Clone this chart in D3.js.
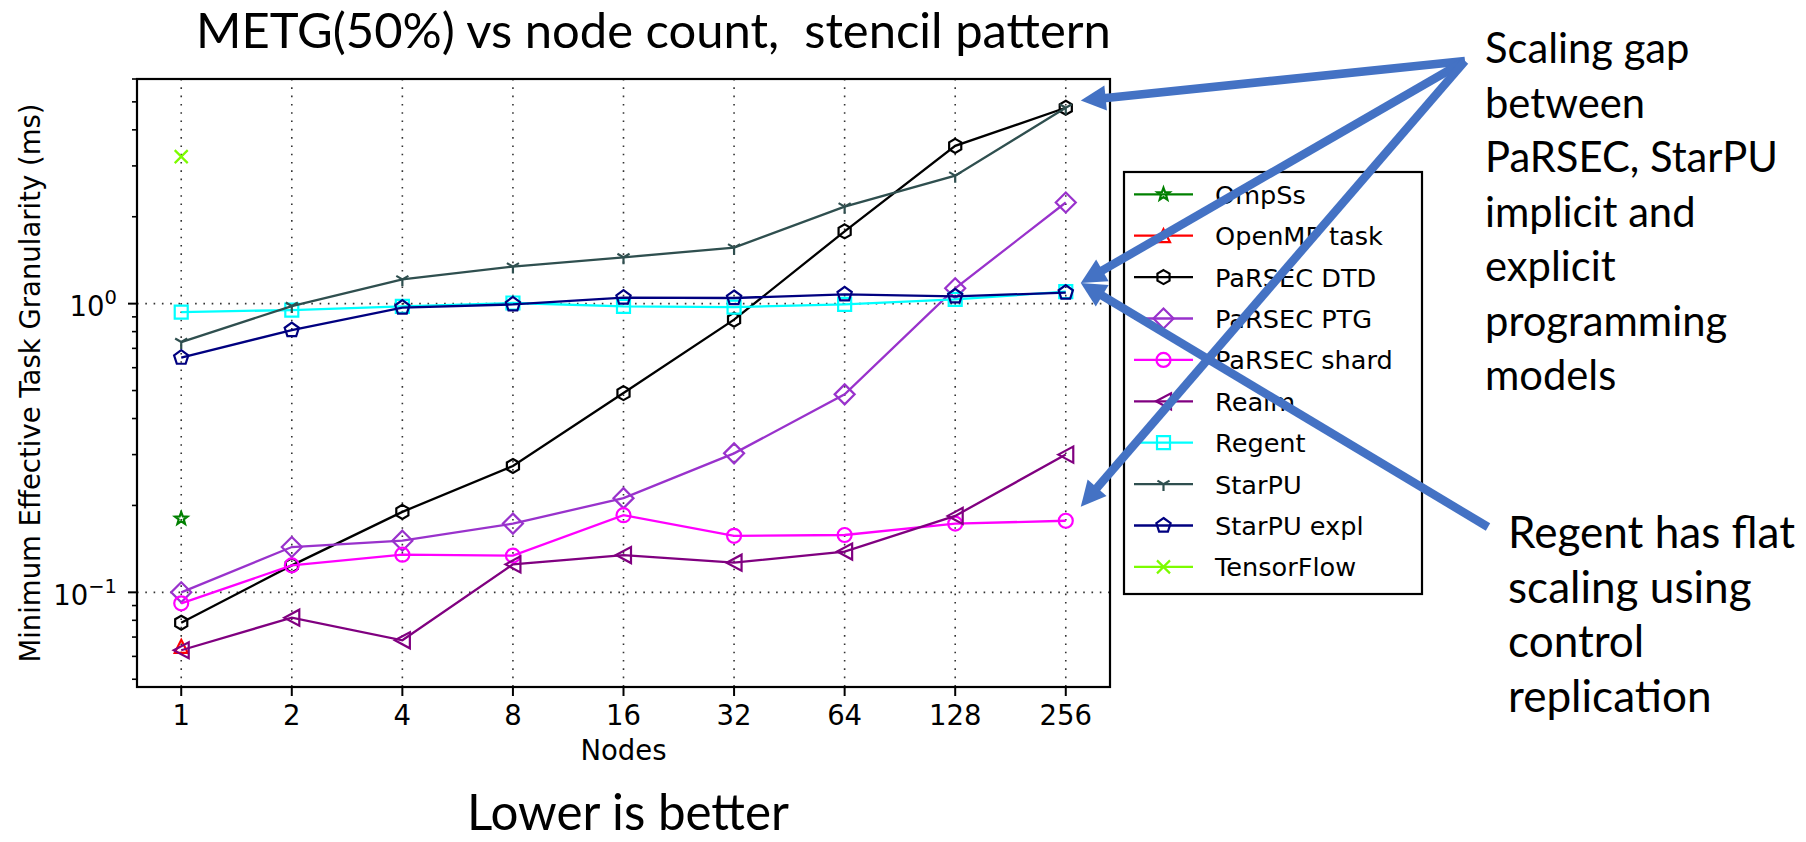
<!DOCTYPE html>
<html>
<head>
<meta charset="utf-8">
<script src="https://cdn.jsdelivr.net/npm/d3@7"></script>
<style>
  body { margin: 0; background: #fff; }
  svg { display: block; }
  text { white-space: pre; }
</style>
</head>
<body>
<script>
// variables:
var w = 1806
var h = 842
var plot = { left: 137, right: 1110, top: 79, bottom: 687 }
var mplFont = 'DejaVu Sans'
var slideFont = 'Lato, Carlito, Calibri, sans-serif'

// data
var nodes = [1, 2, 4, 8, 16, 32, 64, 128, 256]
var ompss = [0.18]
var openmpTask = [0.065]
var parsecDTD = [0.0785, 0.124, 0.19, 0.274, 0.49, 0.88, 1.78, 3.52, 4.77]
var parsecPTG = [0.1, 0.1435, 0.151, 0.173, 0.212, 0.303, 0.485, 1.13, 2.24]
var parsecShard = [0.0916, 0.124, 0.135, 0.134, 0.185, 0.157, 0.158, 0.173, 0.177]
var realm = [0.063, 0.0817, 0.0682, 0.125, 0.1346, 0.1267, 0.1384, 0.184, 0.30]
var regent = [0.935, 0.95, 0.979, 1.005, 0.979, 0.973, 0.994, 1.035, 1.10]
var starpu = [0.736, 0.981, 1.214, 1.344, 1.447, 1.563, 2.168, 2.776, 4.77]
var starpuExpl = [0.65, 0.81, 0.969, 0.994, 1.049, 1.046, 1.077, 1.06, 1.092]
var tensorflow = [3.23]

var seriesNames = ['OmpSs', 'OpenMP task', 'PaRSEC DTD', 'PaRSEC PTG', 'PaRSEC shard',
  'Realm', 'Regent', 'StarPU', 'StarPU expl', 'TensorFlow']
var seriesValues = [ompss, openmpTask, parsecDTD, parsecPTG, parsecShard,
  realm, regent, starpu, starpuExpl, tensorflow]
var seriesColors = ['#008000', '#ff0000', '#000000', '#9932cc', '#ff00ff',
  '#800080', '#00ffff', '#2f4f4f', '#000080', '#7cfc00']
var seriesMarkers = ['star', 'triUp', 'hexagon', 'diamond', 'circle',
  'triLeft', 'square', 'triDown', 'pentagon', 'x']

var yMajor = [0.1, 1]
var yMajorExp = ['\u22121', '0']
var yMinor = [0.05, 0.06, 0.07, 0.08, 0.09, 0.2, 0.3, 0.4, 0.5, 0.6, 0.7, 0.8, 0.9, 2, 3, 4, 5, 6]

var titleText = 'METG(50%) vs node count,  stencil pattern'
var noteGap = ['Scaling gap', 'between', 'PaRSEC, StarPU', 'implicit and', 'explicit', 'programming', 'models']
var noteRegent = ['Regent has flat', 'scaling using', 'control', 'replication']
var footText = 'Lower is better'
// arrow targets in data units (node count, value)
var gapTargets = [[256, 5.05], [256, 1.18], [256, 0.198]]
var regentTarget = [256, 1.18]

var svg = d3.select('body')
  .append('svg')
  .attr('width', w)
  .attr('height', h)

var xScale = d3.scaleLog()
  .base(2)
  .domain([Math.pow(2, -0.4), Math.pow(2, 8.4)])
  .range([plot.left, plot.right])

var yScale = d3.scaleLog()
  .domain([0.047, 6])
  .range([plot.bottom, plot.top])

// helper functions:
function poly (pts) {
  return 'M' + pts.map(function (p) { return p[0].toFixed(2) + ',' + p[1].toFixed(2) }).join('L') + 'Z'
}
function regular (n, r, start) {
  var pts = []
  for (var i = 0; i < n; i++) {
    var a = (start + i * 360 / n) * Math.PI / 180
    pts.push([r * Math.cos(a), r * Math.sin(a)])
  }
  return pts
}
function markerPath (type) {
  switch (type) {
    case 'star':
      var pts = []
      for (var i = 0; i < 10; i++) {
        var r = i % 2 === 0 ? 6.5 : 2.7
        var a = (-90 + i * 36) * Math.PI / 180
        pts.push([r * Math.cos(a), r * Math.sin(a)])
      }
      return poly(pts)
    case 'triUp': return poly([[0, -6.5], [6.5, 6.5], [-6.5, 6.5]])
    case 'triLeft': return poly([[-7.5, 0], [7.5, -8], [7.5, 8]])
    case 'hexagon': return poly(regular(6, 7, -90))
    case 'pentagon': return poly(regular(5, 7.5, -90))
    case 'diamond': return poly([[0, -10], [10, 0], [0, 10], [-10, 0]])
    case 'square': return poly([[-6.5, -6.5], [6.5, -6.5], [6.5, 6.5], [-6.5, 6.5]])
    case 'circle': return 'M7,0A7,7 0 1 1 -7,0A7,7 0 1 1 7,0Z'
    case 'triDown': return 'M0,0L0,7M0,0L-6.06,-3.5M0,0L6.06,-3.5'
    case 'x': return 'M-6.5,-6.5L6.5,6.5M-6.5,6.5L6.5,-6.5'
  }
}

var series = seriesNames.map(function (name, i) {
  return {
    name: name,
    color: seriesColors[i],
    marker: seriesMarkers[i],
    points: seriesValues[i].map(function (v, j) { return { n: nodes[j], v: v } })
  }
})

// grid
svg.append('g')
  .selectAll('line')
  .data(nodes)
  .enter()
  .append('line')
  .attr('x1', function (d) { return xScale(d) })
  .attr('x2', function (d) { return xScale(d) })
  .attr('y1', plot.top)
  .attr('y2', plot.bottom)
  .attr('stroke', '#333')
  .attr('stroke-width', 1.6)
  .attr('stroke-dasharray', '1.6,6.7')

svg.append('g')
  .selectAll('line')
  .data(yMajor)
  .enter()
  .append('line')
  .attr('x1', plot.left)
  .attr('x2', plot.right)
  .attr('y1', function (d) { return yScale(d) })
  .attr('y2', function (d) { return yScale(d) })
  .attr('stroke', '#333')
  .attr('stroke-width', 1.6)
  .attr('stroke-dasharray', '1.6,6.7')

// lines and markers
var line = d3.line()
  .x(function (d) { return xScale(d.n) })
  .y(function (d) { return yScale(d.v) })

var sg = svg.append('g')
  .selectAll('g')
  .data(series)
  .enter()
  .append('g')

sg.append('path')
  .attr('d', function (d) { return line(d.points) })
  .attr('fill', 'none')
  .attr('stroke', function (d) { return d.color })
  .attr('stroke-width', 2.3)

sg.selectAll('.mk')
  .data(function (d) { return d.points.map(function (p) { return { p: p, s: d } }) })
  .enter()
  .append('path')
  .attr('class', 'mk')
  .attr('transform', function (d) { return 'translate(' + xScale(d.p.n) + ',' + yScale(d.p.v) + ')' })
  .attr('d', function (d) { return markerPath(d.s.marker) })
  .attr('fill', 'none')
  .attr('stroke', function (d) { return d.s.color })
  .attr('stroke-width', 2.2)

// axes frame
svg.append('rect')
  .attr('x', plot.left)
  .attr('y', plot.top)
  .attr('width', plot.right - plot.left)
  .attr('height', plot.bottom - plot.top)
  .attr('fill', 'none')
  .attr('stroke', '#000')
  .attr('stroke-width', 2.2)

// x ticks
svg.append('g')
  .selectAll('line')
  .data(nodes)
  .enter()
  .append('line')
  .attr('x1', function (d) { return xScale(d) })
  .attr('x2', function (d) { return xScale(d) })
  .attr('y1', plot.bottom)
  .attr('y2', plot.bottom + 9)
  .attr('stroke', '#000')
  .attr('stroke-width', 2)

svg.append('g')
  .selectAll('text')
  .data(nodes)
  .enter()
  .append('text')
  .text(function (d) { return d })
  .attr('x', function (d) { return xScale(d) })
  .attr('y', 725)
  .attr('text-anchor', 'middle')
  .attr('font-family', mplFont)
  .attr('font-size', '27.5px')

// y ticks
svg.append('g')
  .selectAll('line')
  .data(yMinor)
  .enter()
  .append('line')
  .attr('x1', plot.left - 5)
  .attr('x2', plot.left)
  .attr('y1', function (d) { return yScale(d) })
  .attr('y2', function (d) { return yScale(d) })
  .attr('stroke', '#000')
  .attr('stroke-width', 1.6)

svg.append('g')
  .selectAll('line')
  .data(yMajor)
  .enter()
  .append('line')
  .attr('x1', plot.left - 9)
  .attr('x2', plot.left)
  .attr('y1', function (d) { return yScale(d) })
  .attr('y2', function (d) { return yScale(d) })
  .attr('stroke', '#000')
  .attr('stroke-width', 2)

var yl = svg.append('g')
  .selectAll('text')
  .data(yMajor)
  .enter()
  .append('text')
  .attr('x', 117)
  .attr('y', function (d) { return yScale(d) + 12.5 })
  .attr('text-anchor', 'end')
  .attr('font-family', mplFont)
  .attr('font-size', '27.5px')
yl.append('tspan').text('10')
yl.append('tspan')
  .text(function (d, i) { return yMajorExp[i] })
  .attr('dy', -12)
  .attr('font-size', '19.5px')

// axis labels
svg.append('text')
  .text('Nodes')
  .attr('x', (plot.left + plot.right) / 2)
  .attr('y', 760)
  .attr('text-anchor', 'middle')
  .attr('font-family', mplFont)
  .attr('font-size', '27.5px')

svg.append('text')
  .text('Minimum Effective Task Granularity (ms)')
  .attr('transform', 'translate(40,' + (plot.top + plot.bottom) / 2 + ') rotate(-90)')
  .attr('text-anchor', 'middle')
  .attr('font-family', mplFont)
  .attr('font-size', '27.5px')

// legend
var legend = svg.append('g')
legend.append('rect')
  .attr('x', 1124)
  .attr('y', 172)
  .attr('width', 298)
  .attr('height', 422)
  .attr('fill', '#fff')
  .attr('stroke', '#000')
  .attr('stroke-width', 2.2)

var li = legend.selectAll('.item')
  .data(series)
  .enter()
  .append('g')
  .attr('class', 'item')
  .attr('transform', function (d, i) { return 'translate(1134,' + (194.3 + i * 41.4) + ')' })

li.append('line')
  .attr('x1', 0)
  .attr('x2', 59)
  .attr('stroke', function (d) { return d.color })
  .attr('stroke-width', 2.3)
li.append('path')
  .attr('transform', 'translate(29.5,0)')
  .attr('d', function (d) { return markerPath(d.marker) })
  .attr('fill', 'none')
  .attr('stroke', function (d) { return d.color })
  .attr('stroke-width', 2.2)
li.append('text')
  .text(function (d) { return d.name })
  .attr('x', 81)
  .attr('y', 9.5)
  .attr('font-family', mplFont)
  .attr('font-size', '25.6px')

// slide texts, sized to the widths in the picture
function textBlock (lines, x, y0, step, refIndex, refWidth) {
  var t = svg.append('g')
    .selectAll('text')
    .data(lines)
    .enter()
    .append('text')
    .text(function (d) { return d })
    .attr('x', x)
    .attr('y', function (d, i) { return y0 + i * step })
    .attr('font-family', slideFont)
    .attr('font-size', '40px')
  var len = t.nodes()[refIndex].getComputedTextLength()
  t.attr('font-size', (40 * refWidth / len) + 'px')
  return t
}
textBlock([titleText], 196, 48, 0, 0, 915)
textBlock([footText], 467, 830, 0, 0, 322)
textBlock(noteGap, 1485, 63, 54.5, 2, 293)
textBlock(noteRegent, 1508, 548, 54.7, 0, 287)

// arrows
var blue = '#4472c4'
function arrow (x0, y0, x1, y1) {
  var dx = x1 - x0
  var dy = y1 - y0
  var len = Math.sqrt(dx * dx + dy * dy)
  var ux = dx / len
  var uy = dy / len
  var head = 25
  var half = 12.5
  var bx = x1 - ux * head
  var by = y1 - uy * head
  svg.append('line')
    .attr('x1', x0).attr('y1', y0)
    .attr('x2', bx + ux * 2).attr('y2', by + uy * 2)
    .attr('stroke', blue)
    .attr('stroke-width', 8.5)
  svg.append('path')
    .attr('d', poly([[x1, y1], [bx - uy * half, by + ux * half], [bx + uy * half, by - ux * half]]))
    .attr('fill', blue)
}
gapTargets.forEach(function (t) {
  arrow(1465, 61, xScale(t[0]) + 15, yScale(t[1]))
})
arrow(1488, 527, xScale(regentTarget[0]) + 15, yScale(regentTarget[1]))
</script>
</body>
</html>
